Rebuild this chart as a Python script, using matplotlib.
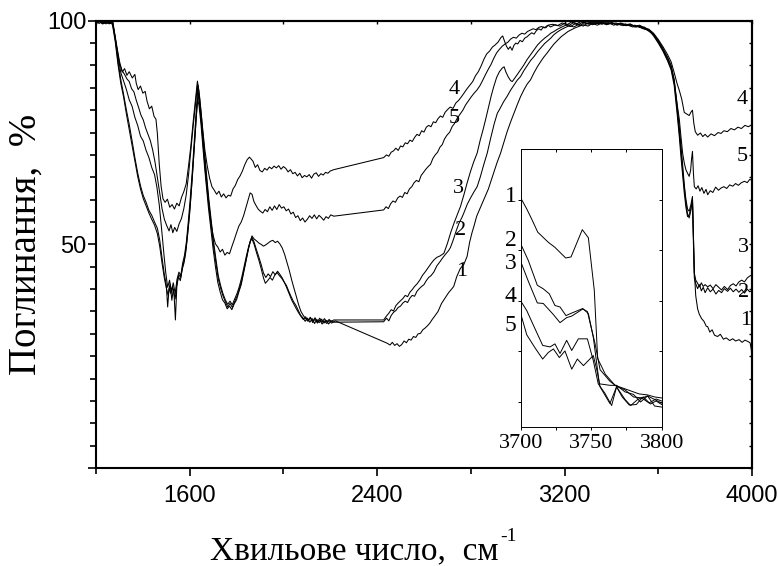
import numpy as np
import matplotlib
matplotlib.use('Agg')
import matplotlib.pyplot as plt

# (wavenumber, absorption %)
spec1 = np.array([
    (1200, 99.5), (1214, 99.9), (1228, 99.3), (1242, 99.8), (1256, 99.4), (1270, 99.7),
    (1282, 96.0), (1294, 91.0), (1306, 86.8), (1318, 83.5), (1330, 80.0), (1342, 76.8),
    (1354, 73.2), (1366, 69.4), (1378, 66.0), (1390, 63.1), (1402, 60.9), (1414, 59.4),
    (1426, 57.6), (1438, 56.5), (1450, 55.0), (1462, 53.6), (1472, 51.0), (1482, 47.0),
    (1492, 43.2), (1500, 41.0), (1506, 36.0), (1512, 40.2), (1520, 39.0), (1528, 40.6),
    (1534, 38.2), (1539, 33.1), (1545, 40.5), (1552, 42.8), (1560, 41.9), (1568, 44.4),
    (1576, 45.9), (1584, 48.5), (1592, 52.5), (1600, 57.0), (1610, 64.0), (1620, 72.0),
    (1628, 78.5), (1634, 82.5), (1640, 81.0), (1648, 77.0), (1656, 72.0), (1664, 67.0),
    (1672, 62.5), (1680, 58.2), (1690, 53.6), (1700, 49.0), (1710, 45.0), (1720, 41.5),
    (1730, 39.4), (1740, 37.6), (1750, 36.9), (1760, 35.6), (1770, 36.2), (1780, 35.4),
    (1790, 36.7), (1800, 37.6), (1810, 39.4), (1820, 41.0), (1830, 43.6), (1840, 46.2),
    (1850, 48.8), (1858, 50.6), (1866, 51.9), (1875, 51.2), (1885, 50.8), (1895, 50.3),
    (1905, 50.0), (1915, 49.6), (1925, 49.9), (1935, 50.3), (1945, 50.7), (1955, 50.9),
    (1965, 50.4), (1975, 50.7), (1985, 50.1), (1995, 49.2), (2005, 47.8), (2015, 46.0),
    (2025, 44.2), (2035, 42.1), (2045, 40.2), (2055, 38.4), (2065, 36.5), (2075, 35.0),
    (2085, 34.1), (2095, 33.4), (2105, 32.8), (2115, 33.6), (2125, 32.5), (2135, 33.3),
    (2145, 32.4), (2155, 33.1), (2165, 32.2), (2175, 32.9), (2185, 32.3), (2195, 33.0),
    (2205, 32.4), (2222, 32.9), (2443, 27.9), (2455, 27.5), (2465, 28.1), (2475, 27.4),
    (2485, 27.8), (2495, 27.2), (2505, 27.6), (2515, 28.4), (2525, 28.0), (2535, 28.8),
    (2545, 28.6), (2555, 29.4), (2565, 29.2), (2575, 30.0), (2585, 30.1), (2595, 30.9),
    (2605, 31.3), (2615, 31.8), (2625, 32.4), (2635, 33.2), (2645, 33.9), (2660, 35.0),
    (2675, 36.8), (2690, 38.0), (2705, 39.2), (2718, 40.0), (2727, 40.6), (2740, 42.8),
    (2755, 44.6), (2770, 45.5), (2784, 47.3), (2795, 50.5), (2805, 52.6), (2813, 54.0),
    (2825, 56.3), (2838, 57.9), (2850, 59.4), (2862, 60.8), (2875, 62.4), (2888, 64.5),
    (2900, 66.4), (2912, 68.3), (2927, 70.4), (2942, 73.0), (2955, 75.2), (2970, 77.4),
    (2984, 79.3), (2998, 81.2), (3012, 83.0), (3026, 84.5), (3040, 85.8), (3055, 86.8),
    (3070, 88.4), (3085, 89.8), (3100, 91.0), (3112, 91.9), (3126, 92.8), (3140, 93.8),
    (3155, 94.8), (3170, 95.6), (3185, 96.4), (3200, 97.0), (3215, 97.6), (3230, 98.0),
    (3245, 98.4), (3260, 98.7), (3280, 99.1), (3300, 98.8), (3320, 99.4), (3340, 99.0),
    (3360, 99.5), (3380, 99.1), (3400, 99.6), (3420, 99.2), (3440, 99.4), (3460, 98.9),
    (3480, 99.2), (3500, 98.6), (3520, 98.8), (3540, 98.2), (3560, 97.8), (3580, 96.8),
    (3600, 95.4), (3620, 93.6), (3640, 91.6), (3655, 89.8), (3668, 86.5), (3680, 80.5),
    (3690, 75.0), (3697, 71.0), (3704, 66.7), (3711, 62.8), (3718, 59.4), (3725, 56.8),
    (3732, 55.9), (3739, 57.5), (3746, 60.2), (3750, 52.0), (3754, 44.0), (3760, 38.5),
    (3768, 35.6), (3775, 34.4), (3785, 33.4), (3795, 32.8), (3805, 31.7), (3811, 31.6),
    (3820, 30.4), (3830, 30.9), (3840, 29.7), (3853, 29.4), (3865, 29.9), (3878, 28.8),
    (3890, 29.1), (3905, 28.5), (3918, 28.9), (3930, 28.4), (3945, 28.7), (3958, 28.1),
    (3970, 28.6), (3982, 28.3), (3992, 28.0), (3997, 26.5), (4000, 25.0),
])

spec2 = np.array([
    (1200, 99.7), (1214, 99.4), (1228, 99.8), (1242, 99.3), (1256, 99.6), (1270, 99.2),
    (1282, 95.4), (1294, 90.2), (1306, 86.0), (1318, 82.9), (1330, 79.1), (1342, 75.6),
    (1354, 72.0), (1366, 68.6), (1378, 65.2), (1390, 62.4), (1402, 60.2), (1414, 58.6),
    (1426, 57.0), (1438, 55.6), (1450, 54.3), (1462, 52.4), (1472, 49.6), (1482, 45.8),
    (1492, 42.4), (1500, 40.3), (1508, 38.6), (1516, 41.2), (1524, 37.5), (1530, 40.0),
    (1538, 37.8), (1546, 41.5), (1554, 43.2), (1562, 42.6), (1570, 45.1), (1578, 46.8),
    (1586, 49.8), (1594, 54.0), (1602, 58.6), (1612, 65.8), (1622, 73.6), (1630, 79.8),
    (1636, 83.8), (1642, 81.6), (1650, 77.4), (1658, 72.8), (1666, 68.0), (1674, 63.4),
    (1682, 59.0), (1692, 54.2), (1702, 49.6), (1712, 45.8), (1722, 42.3), (1732, 40.2),
    (1742, 38.5), (1752, 37.2), (1762, 36.0), (1772, 36.8), (1782, 35.9), (1792, 37.2),
    (1802, 38.4), (1812, 40.0), (1822, 41.9), (1832, 44.3), (1842, 46.8), (1852, 49.3),
    (1860, 50.8), (1866, 51.2), (1875, 50.0), (1885, 48.2), (1895, 46.5), (1905, 44.6),
    (1915, 42.5), (1923, 41.3), (1933, 41.9), (1943, 42.6), (1953, 42.0), (1963, 43.1),
    (1973, 43.7), (1983, 43.0), (1993, 42.4), (2003, 41.6), (2013, 40.8), (2023, 39.5),
    (2033, 38.3), (2043, 37.2), (2053, 36.4), (2063, 35.3), (2073, 34.2), (2083, 33.6),
    (2093, 32.8), (2103, 33.5), (2113, 32.6), (2123, 33.4), (2133, 32.3), (2143, 33.2),
    (2153, 32.5), (2163, 33.3), (2173, 32.4), (2183, 33.0), (2193, 32.2), (2203, 32.9),
    (2215, 32.6), (2428, 32.7), (2440, 33.5), (2450, 32.9), (2460, 34.1), (2470, 34.8),
    (2480, 35.2), (2490, 35.9), (2500, 36.2), (2510, 36.9), (2520, 37.3), (2530, 37.0),
    (2540, 38.0), (2550, 38.6), (2560, 38.4), (2570, 39.5), (2580, 40.1), (2590, 40.6),
    (2600, 41.0), (2610, 41.9), (2620, 42.6), (2630, 43.0), (2642, 43.8), (2655, 45.2),
    (2668, 46.1), (2680, 47.0), (2692, 47.8), (2705, 48.6), (2713, 49.3), (2725, 51.0),
    (2738, 53.1), (2750, 54.8), (2762, 56.0), (2770, 57.0), (2785, 59.0), (2800, 60.5),
    (2814, 61.8), (2827, 62.9), (2840, 65.0), (2855, 67.8), (2870, 70.4), (2885, 73.8),
    (2900, 77.0), (2913, 79.3), (2926, 80.5), (2940, 81.9), (2955, 83.1), (2970, 84.5),
    (2984, 85.6), (2998, 86.7), (3012, 87.5), (3027, 88.9), (3041, 90.0), (3055, 91.1),
    (3070, 92.0), (3085, 93.1), (3100, 94.0), (3115, 94.9), (3130, 95.6), (3141, 96.1),
    (3155, 96.9), (3170, 97.5), (3185, 98.0), (3200, 98.4), (3220, 98.9), (3240, 98.6),
    (3260, 99.2), (3280, 98.8), (3300, 99.5), (3320, 99.1), (3340, 99.6), (3360, 99.2),
    (3380, 99.7), (3400, 99.3), (3420, 99.5), (3440, 99.0), (3460, 99.3), (3480, 98.8),
    (3500, 99.0), (3520, 98.5), (3540, 98.6), (3560, 97.9), (3580, 96.6), (3600, 95.0),
    (3620, 93.2), (3640, 91.0), (3655, 89.0), (3668, 85.5), (3680, 79.5), (3690, 74.0),
    (3697, 69.5), (3704, 65.4), (3711, 61.5), (3718, 58.3), (3725, 56.2), (3732, 56.6),
    (3739, 57.9), (3746, 59.8), (3750, 50.5), (3754, 42.5), (3760, 41.2), (3768, 40.1),
    (3776, 41.0), (3784, 39.6), (3792, 40.4), (3800, 39.2), (3811, 40.3), (3822, 39.4),
    (3834, 40.0), (3846, 38.9), (3858, 39.7), (3870, 39.2), (3882, 40.1), (3896, 39.5),
    (3908, 40.2), (3920, 39.4), (3932, 40.0), (3944, 39.3), (3956, 39.9), (3968, 39.1),
    (3980, 40.0), (3990, 39.4), (4000, 39.6),
])

spec3 = np.array([
    (1200, 99.4), (1214, 99.8), (1228, 99.5), (1242, 99.9), (1256, 99.3), (1270, 99.6),
    (1282, 96.4), (1294, 92.0), (1306, 88.4), (1318, 86.5), (1330, 84.6), (1342, 82.3),
    (1354, 80.9), (1366, 78.4), (1378, 76.6), (1390, 74.2), (1402, 73.1), (1414, 71.0),
    (1426, 69.4), (1438, 67.2), (1450, 65.6), (1460, 62.8), (1470, 58.9), (1480, 53.5),
    (1490, 47.8), (1498, 43.6), (1506, 40.4), (1514, 42.0), (1522, 39.6), (1530, 41.4),
    (1538, 39.0), (1546, 42.2), (1554, 43.8), (1562, 43.0), (1570, 45.8), (1578, 47.6),
    (1586, 50.6), (1594, 55.0), (1602, 60.0), (1612, 67.0), (1622, 75.0), (1630, 81.5),
    (1636, 85.6), (1642, 83.0), (1650, 78.6), (1658, 73.8), (1666, 69.0), (1674, 64.4),
    (1682, 60.0), (1692, 55.2), (1702, 50.6), (1712, 46.7), (1722, 43.0), (1732, 40.8),
    (1742, 39.0), (1752, 37.6), (1762, 36.6), (1772, 37.3), (1782, 36.5), (1792, 37.8),
    (1802, 39.0), (1812, 40.6), (1822, 42.6), (1832, 45.0), (1842, 47.4), (1852, 49.6),
    (1860, 50.9), (1866, 51.6), (1875, 50.5), (1885, 48.8), (1895, 47.2), (1905, 45.5),
    (1915, 43.6), (1925, 42.6), (1935, 43.4), (1945, 42.8), (1955, 43.9), (1965, 43.2),
    (1975, 44.0), (1985, 43.3), (1995, 42.5), (2005, 41.4), (2015, 40.2), (2025, 38.9),
    (2035, 37.6), (2045, 36.6), (2055, 35.6), (2065, 34.7), (2075, 33.9), (2085, 33.2),
    (2095, 33.8), (2105, 32.9), (2115, 33.7), (2125, 32.8), (2135, 33.6), (2145, 32.7),
    (2155, 33.5), (2165, 32.6), (2175, 33.4), (2185, 32.7), (2195, 33.2), (2205, 32.8),
    (2215, 33.1), (2428, 33.1), (2440, 34.0), (2450, 34.6), (2460, 35.4), (2470, 35.1),
    (2480, 36.3), (2490, 36.9), (2500, 37.4), (2510, 37.9), (2520, 38.6), (2530, 38.3),
    (2540, 39.3), (2550, 39.9), (2560, 40.6), (2571, 41.2), (2582, 42.0), (2594, 43.1),
    (2606, 43.9), (2618, 44.8), (2630, 45.7), (2642, 46.5), (2655, 47.1), (2668, 47.4),
    (2685, 48.0), (2700, 50.2), (2715, 52.8), (2730, 55.0), (2742, 56.6), (2756, 58.5),
    (2770, 61.0), (2784, 63.7), (2798, 66.2), (2812, 68.4), (2827, 70.4), (2840, 73.3),
    (2852, 75.6), (2863, 77.9), (2875, 80.6), (2887, 83.2), (2898, 85.3), (2910, 87.3),
    (2922, 88.6), (2934, 89.4), (2942, 89.7), (2950, 88.5), (2960, 87.4), (2970, 86.6),
    (2977, 86.4), (2988, 87.2), (3000, 88.1), (3012, 89.0), (3025, 90.0), (3040, 91.3),
    (3055, 92.4), (3070, 93.5), (3085, 94.6), (3100, 95.4), (3115, 96.1), (3130, 96.7),
    (3141, 97.2), (3155, 97.6), (3170, 98.1), (3185, 98.5), (3205, 99.0), (3225, 98.7),
    (3245, 99.3), (3265, 98.9), (3285, 99.6), (3305, 99.2), (3325, 99.7), (3345, 99.3),
    (3365, 99.6), (3385, 99.2), (3405, 99.5), (3425, 99.0), (3445, 99.4), (3465, 98.9),
    (3485, 99.1), (3505, 98.6), (3525, 98.8), (3545, 98.2), (3560, 97.9), (3580, 97.0),
    (3600, 95.6), (3620, 93.8), (3640, 91.8), (3655, 90.0), (3668, 86.9), (3680, 81.4),
    (3690, 76.2), (3697, 72.1), (3704, 67.9), (3711, 63.4), (3718, 60.1), (3725, 57.9),
    (3732, 57.4), (3739, 58.8), (3746, 60.7), (3750, 51.8), (3754, 43.5), (3760, 42.0),
    (3768, 41.3), (3776, 40.5), (3784, 41.4), (3792, 40.6), (3800, 41.0), (3811, 40.5),
    (3822, 40.9), (3834, 40.1), (3846, 41.0), (3858, 40.4), (3870, 39.8), (3882, 40.6),
    (3896, 39.9), (3908, 40.8), (3920, 41.2), (3932, 40.7), (3944, 41.6), (3956, 42.0),
    (3968, 41.6), (3980, 42.5), (3990, 42.9), (4000, 43.2),
])

spec4 = np.array([
    (1200, 99.6), (1215, 99.9), (1230, 99.4), (1245, 99.8), (1260, 99.5), (1272, 99.7),
    (1285, 95.5), (1300, 91.0), (1312, 88.5), (1322, 89.3), (1332, 87.8), (1342, 88.6),
    (1355, 87.2), (1366, 88.0), (1372, 86.0), (1380, 84.6), (1390, 85.4), (1400, 83.8),
    (1410, 84.2), (1418, 82.0), (1428, 80.3), (1438, 80.9), (1448, 78.6), (1456, 78.0),
    (1462, 74.8), (1470, 68.0), (1478, 63.0), (1486, 60.2), (1495, 59.4), (1505, 60.1),
    (1515, 58.3), (1525, 58.9), (1535, 57.9), (1545, 59.2), (1555, 58.6), (1565, 60.5),
    (1575, 61.8), (1585, 63.5), (1595, 67.5), (1605, 72.0), (1615, 77.5), (1625, 82.5),
    (1633, 86.5), (1640, 84.0), (1648, 80.0), (1656, 75.5), (1665, 71.0), (1675, 67.5),
    (1685, 64.8), (1695, 62.9), (1705, 62.1), (1715, 61.2), (1725, 61.9), (1735, 60.6),
    (1745, 61.3), (1755, 60.4), (1765, 61.0), (1775, 60.8), (1785, 62.4), (1795, 63.2),
    (1805, 64.5), (1815, 65.3), (1825, 66.4), (1835, 67.8), (1845, 68.9), (1855, 69.5),
    (1862, 69.1), (1870, 68.6), (1880, 67.2), (1890, 67.8), (1900, 66.5), (1910, 66.2),
    (1920, 67.0), (1930, 66.6), (1940, 67.3), (1950, 66.9), (1960, 67.5), (1970, 67.1),
    (1980, 67.6), (1990, 66.8), (2000, 67.4), (2010, 67.0), (2020, 66.2), (2030, 66.7),
    (2040, 65.8), (2050, 66.1), (2060, 65.3), (2070, 65.9), (2080, 64.9), (2090, 65.4),
    (2100, 65.1), (2110, 65.6), (2120, 64.8), (2130, 65.7), (2140, 66.0), (2150, 65.2),
    (2160, 65.8), (2170, 65.5), (2180, 66.1), (2190, 65.9), (2200, 66.4), (2215, 66.7),
    (2428, 69.4), (2440, 70.0), (2450, 69.7), (2460, 70.6), (2470, 70.9), (2480, 71.5),
    (2490, 71.0), (2500, 72.0), (2510, 71.8), (2520, 72.7), (2530, 72.5), (2540, 73.3),
    (2550, 73.0), (2560, 73.9), (2570, 74.6), (2580, 74.3), (2590, 75.4), (2600, 75.1),
    (2610, 76.2), (2620, 76.6), (2630, 76.3), (2640, 77.4), (2650, 77.2), (2660, 78.1),
    (2670, 78.7), (2680, 78.4), (2690, 79.5), (2700, 80.1), (2712, 80.7), (2724, 80.4),
    (2736, 81.6), (2748, 82.2), (2760, 83.0), (2772, 83.9), (2784, 84.8), (2796, 85.6),
    (2808, 86.4), (2820, 87.7), (2832, 88.6), (2844, 89.9), (2856, 91.4), (2868, 92.6),
    (2880, 93.2), (2892, 94.1), (2904, 94.6), (2916, 95.2), (2928, 96.2), (2936, 96.6),
    (2944, 95.4), (2952, 94.3), (2960, 93.6), (2968, 94.2), (2976, 93.4), (2984, 94.5),
    (2992, 95.0), (3000, 94.8), (3010, 95.6), (3020, 95.3), (3030, 96.1), (3040, 96.4),
    (3050, 96.9), (3060, 97.3), (3070, 97.0), (3080, 97.8), (3090, 98.2), (3100, 97.9),
    (3110, 98.6), (3120, 98.4), (3130, 99.0), (3140, 98.6), (3160, 99.1), (3180, 98.8),
    (3200, 99.4), (3220, 99.0), (3240, 99.6), (3260, 99.2), (3280, 99.7), (3300, 99.3),
    (3320, 99.8), (3340, 99.4), (3360, 99.7), (3380, 99.2), (3400, 99.6), (3420, 99.1),
    (3440, 99.5), (3460, 99.0), (3480, 99.3), (3500, 98.7), (3520, 99.0), (3540, 98.4),
    (3560, 98.1), (3580, 97.2), (3600, 95.8), (3620, 94.2), (3640, 92.4), (3655, 90.8),
    (3668, 88.4), (3680, 86.0), (3690, 84.4), (3700, 82.5), (3711, 79.5), (3720, 79.2),
    (3732, 78.8), (3740, 79.6), (3746, 80.0), (3752, 77.0), (3758, 75.2), (3768, 74.4),
    (3780, 74.9), (3790, 74.1), (3800, 74.6), (3811, 74.0), (3825, 74.7), (3840, 74.3),
    (3855, 75.0), (3868, 74.8), (3880, 75.4), (3895, 75.2), (3910, 75.9), (3925, 75.6),
    (3940, 76.2), (3955, 75.9), (3970, 76.6), (3985, 76.3), (4000, 76.8),
])

spec5 = np.array([
    (1200, 99.5), (1215, 99.8), (1230, 99.3), (1245, 99.7), (1260, 99.4), (1272, 99.6),
    (1285, 95.0), (1300, 90.5), (1312, 88.8), (1322, 88.0), (1332, 87.0), (1342, 86.4),
    (1352, 84.8), (1362, 84.1), (1372, 82.2), (1382, 80.6), (1392, 78.9), (1402, 77.8),
    (1412, 76.0), (1422, 74.6), (1432, 73.2), (1442, 71.1), (1452, 68.4), (1462, 65.0),
    (1472, 61.5), (1482, 58.0), (1492, 55.6), (1502, 54.2), (1512, 53.0), (1520, 54.4),
    (1528, 52.6), (1536, 53.8), (1545, 52.9), (1555, 54.6), (1565, 55.8), (1575, 58.0),
    (1585, 61.0), (1595, 65.5), (1605, 71.0), (1615, 76.5), (1625, 81.5), (1633, 85.5),
    (1641, 82.0), (1650, 77.0), (1660, 70.5), (1670, 64.5), (1680, 59.5), (1690, 55.0),
    (1700, 52.0), (1710, 50.1), (1720, 49.4), (1730, 48.3), (1740, 48.9), (1750, 47.6),
    (1760, 48.2), (1770, 47.9), (1780, 49.5), (1790, 51.0), (1800, 52.6), (1810, 54.1),
    (1820, 55.0), (1830, 56.4), (1840, 58.2), (1850, 60.0), (1858, 61.5), (1866, 61.2),
    (1874, 59.6), (1882, 58.8), (1892, 57.9), (1902, 57.4), (1912, 57.0), (1922, 57.8),
    (1932, 57.3), (1942, 58.4), (1952, 57.6), (1962, 58.6), (1972, 57.8), (1982, 58.9),
    (1992, 58.1), (2002, 58.4), (2012, 57.5), (2022, 57.9), (2032, 56.8), (2042, 57.2),
    (2052, 56.0), (2062, 56.4), (2072, 55.3), (2082, 55.9), (2092, 55.0), (2102, 55.6),
    (2112, 56.4), (2122, 55.8), (2132, 56.6), (2142, 55.7), (2152, 56.5), (2162, 56.0),
    (2172, 55.4), (2182, 56.2), (2192, 55.8), (2202, 56.6), (2215, 56.3), (2428, 57.7),
    (2438, 58.4), (2448, 58.0), (2458, 59.1), (2468, 59.7), (2478, 59.4), (2488, 60.4),
    (2498, 60.8), (2508, 60.5), (2518, 61.6), (2528, 61.3), (2538, 62.4), (2548, 62.9),
    (2558, 63.8), (2568, 64.3), (2578, 64.0), (2588, 65.4), (2598, 66.1), (2608, 66.8),
    (2618, 67.4), (2628, 67.9), (2638, 69.2), (2648, 70.0), (2658, 70.6), (2668, 71.7),
    (2678, 72.3), (2688, 73.6), (2698, 74.4), (2710, 75.1), (2720, 76.3), (2730, 77.0),
    (2742, 78.2), (2754, 79.1), (2766, 80.0), (2778, 81.2), (2790, 82.1), (2802, 83.0),
    (2814, 83.8), (2826, 84.5), (2838, 85.4), (2850, 86.6), (2862, 87.9), (2874, 89.1),
    (2886, 90.2), (2898, 91.6), (2910, 92.8), (2922, 93.6), (2934, 94.3), (2946, 94.8),
    (2958, 95.2), (2970, 95.9), (2982, 96.3), (2994, 96.1), (3006, 96.8), (3018, 97.2),
    (3030, 97.0), (3042, 97.6), (3054, 97.9), (3066, 98.2), (3078, 98.0), (3090, 98.5),
    (3102, 98.7), (3114, 98.4), (3126, 98.9), (3138, 99.1), (3150, 99.2), (3170, 98.9),
    (3190, 99.5), (3210, 99.1), (3230, 99.7), (3250, 99.3), (3270, 99.8), (3290, 99.4),
    (3310, 99.6), (3330, 99.2), (3350, 99.7), (3370, 99.3), (3390, 99.5), (3410, 99.0),
    (3430, 99.4), (3450, 98.9), (3470, 99.2), (3490, 98.6), (3510, 98.9), (3530, 98.3),
    (3550, 98.0), (3580, 96.9), (3600, 95.2), (3620, 93.4), (3640, 91.2), (3655, 89.3),
    (3668, 86.4), (3680, 81.5), (3690, 77.9), (3697, 74.0), (3704, 70.4), (3711, 68.2),
    (3718, 66.7), (3725, 65.9), (3732, 65.2), (3738, 66.5), (3742, 69.0), (3746, 70.8),
    (3750, 66.0), (3754, 62.9), (3762, 62.4), (3770, 63.1), (3778, 61.9), (3786, 62.7),
    (3795, 61.4), (3804, 62.3), (3811, 61.1), (3822, 62.0), (3833, 61.6), (3845, 62.8),
    (3857, 62.1), (3868, 62.6), (3880, 62.9), (3892, 62.5), (3905, 63.3), (3918, 63.0),
    (3930, 63.6), (3942, 63.2), (3955, 63.8), (3968, 64.1), (3980, 63.8), (3990, 64.5),
    (4000, 64.4),
])

# inset (3700-3800 cm-1), arbitrary units
zoom1 = np.array([
    (3700, 5.04), (3704.3, 4.82), (3707.8, 4.62), (3712.1, 4.36), (3719.6, 4.16),
    (3724.3, 4.06), (3731.9, 3.85), (3735.7, 3.87), (3743.7, 4.41), (3748, 4.25),
    (3752.2, 3.21), (3754.6, 1.86), (3760, 1.55), (3766.9, 1.33), (3772, 1.28),
    (3778, 1.22), (3784, 1.16), (3790, 1.14), (3795, 1.10), (3800, 1.08),
])
zoom2 = np.array([
    (3700, 4.13), (3705.4, 3.80), (3711.8, 3.31), (3716, 3.24), (3720.3, 3.14),
    (3724.3, 2.91), (3727.9, 2.88), (3732.1, 2.71), (3736.2, 2.76), (3744, 2.85),
    (3748, 2.75), (3751.5, 2.28), (3755.8, 1.36), (3763.3, 1.33), (3768, 1.33),
    (3774, 1.20), (3780, 1.15), (3785, 1.00), (3790, 1.12), (3795, 1.05), (3800, 0.98),
])
zoom3 = np.array([
    (3700, 3.78), (3705.4, 3.39), (3711.8, 2.96), (3716, 2.95), (3723.2, 2.73),
    (3727.9, 2.57), (3732.6, 2.67), (3736.2, 2.70), (3744, 2.84), (3747.3, 2.79),
    (3752.7, 2.16), (3756.3, 1.64), (3763.3, 1.41), (3768, 1.31), (3774, 1.24),
    (3780, 1.10), (3786, 1.08), (3791, 0.98), (3796, 1.06), (3800, 1.02),
])
zoom4 = np.array([
    (3700, 3.00), (3704.3, 2.81), (3709, 2.52), (3715.6, 2.12), (3720.8, 2.09),
    (3724.3, 2.15), (3727.9, 1.96), (3732.6, 2.22), (3736.2, 2.02), (3740.9, 2.25),
    (3747.3, 2.25), (3751.5, 1.82), (3755, 1.36), (3759.8, 1.17), (3764.5, 0.93),
    (3768, 1.30), (3774, 1.05), (3778, 0.93), (3783, 1.05), (3787, 1.10),
    (3792, 0.96), (3796, 1.02), (3800, 0.95),
])
zoom5 = np.array([
    (3700, 2.75), (3704.3, 2.33), (3710.2, 2.07), (3715.6, 1.85), (3719.6, 1.98),
    (3723.2, 2.05), (3727.4, 1.88), (3731.4, 2.01), (3736.2, 1.65), (3740.2, 1.85),
    (3744.5, 1.72), (3751.5, 1.92), (3753.9, 1.65), (3756.3, 1.30), (3763.3, 0.97),
    (3768, 1.30), (3772, 1.10), (3777, 0.94), (3782, 0.95), (3786, 1.08),
    (3790, 1.12), (3795, 0.92), (3800, 0.90),
])

labels = ['1', '2', '3', '4', '5']
mid_label_pos = [(2760, 44.0), (2756, 53.0), (2748, 62.4), (2727, 84.6), (2731, 78.1)]
right_label_pos = [(3974, 32.9), (3965, 39.2), (3962, 49.2), (3957, 82.3), (3957, 69.6)]
inset_label_y = [5.07, 4.19, 3.75, 3.08, 2.52]

serif = 'Liberation Serif'
sans = 'Liberation Sans'

fig = plt.figure(figsize=(7.79, 5.66), dpi=100)
ax = fig.add_axes([0.1232, 0.1731, 0.8421, 0.7903])

for s in [spec1, spec2, spec3, spec4, spec5]:
    ax.plot(s[:, 0], s[:, 1], color='black', lw=0.75)

ax.set_xlim(1200, 4000)
ax.set_ylim(0, 100)
ax.set_xticks([1600, 2400, 3200, 4000])
ax.set_xticks([1200, 2000, 2800, 3600], minor=True)
ax.set_yticks([0, 50, 100])
ax.set_yticklabels(['', '50', '100'])
ax.set_yticks(np.arange(0, 101, 5), minor=True)
for lab in ax.get_xticklabels() + ax.get_yticklabels():
    lab.set_fontfamily(sans)
    lab.set_fontsize(17)
ax.tick_params(axis='both', which='major', direction='out', length=6, width=1.2)
ax.tick_params(axis='both', which='minor', direction='out', length=4.5, width=1.2)
ax.tick_params(axis='x', pad=6)
ax.tick_params(axis='y', pad=1)
for sp in ax.spines.values():
    sp.set_linewidth(1.5)

# inward ticks on the top and right spines
top = ax.secondary_xaxis('top')
top.set_xticks(np.arange(1200, 4001, 400))
top.tick_params(direction='in', length=2.5, width=1.0, labeltop=False)
right = ax.secondary_yaxis('right')
right.set_yticks(np.arange(0, 101, 5))
right.tick_params(direction='in', length=2.5, width=1.0, labelright=False)
top.spines['top'].set_linewidth(1.5)
right.spines['right'].set_linewidth(1.5)

for lab, (x, y) in zip(labels, mid_label_pos):
    ax.text(x, y, lab, family=serif, fontsize=16, ha='center', va='center')
for lab, (x, y) in zip(labels, right_label_pos):
    ax.text(x, y, lab, family=serif, fontsize=16, ha='center', va='center')

ax.set_ylabel('Поглинання,  %', family=serif, fontsize=28)
ax.yaxis.set_label_coords(-0.078, 0.5)
xl = fig.text(0.455, 0.012, 'Хвильове число,  см', family=serif, fontsize=24,
              ha='center', va='baseline')
fig.canvas.draw()
fig.text(xl.get_window_extent().x1 / fig.bbox.width + 0.002, 1 - 541 / 566, '-1',
         family=serif, fontsize=14, ha='left', va='baseline')

# inset
ins = fig.add_axes([0.6684, 0.2451, 0.181, 0.4911])
for s in [zoom1, zoom2, zoom3, zoom4, zoom5]:
    ins.plot(s[:, 0], s[:, 1], color='black', lw=0.7)
ins.set_xlim(3700, 3800)
ins.set_ylim(0.5, 6.0)
ins.set_xticks([3700, 3750, 3800])
ins.set_xticks([3725, 3775], minor=True)
ins.set_yticks([1, 2, 3, 4, 5])
ins.set_yticklabels([])
for lab in ins.get_xticklabels():
    lab.set_fontfamily(serif)
    lab.set_fontsize(16)
ins.tick_params(axis='both', which='both', direction='out', length=2.5, width=0.7, pad=2)
for sp in ins.spines.values():
    sp.set_linewidth(0.7)
itop = ins.secondary_xaxis('top')
itop.set_xticks([3700, 3725, 3750, 3775, 3800])
itop.tick_params(direction='in', length=2.5, width=0.7, labeltop=False)
iright = ins.secondary_yaxis('right')
iright.set_yticks([1, 2, 3, 4, 5])
iright.tick_params(direction='in', length=2.5, width=0.7, labelright=False)
itop.spines['top'].set_linewidth(0.7)
iright.spines['right'].set_linewidth(0.7)

for lab, y in zip(labels, inset_label_y):
    ins.text(3697.2, y, lab, family=serif, fontsize=17, ha='right', va='center',
             clip_on=False)

fig.savefig('out.png', dpi=100)
